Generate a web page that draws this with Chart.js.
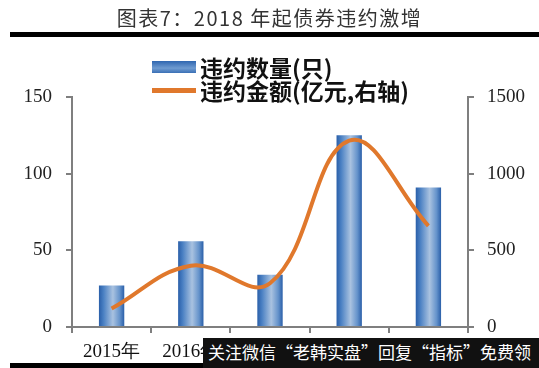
<!DOCTYPE html>
<html>
<head>
<meta charset="utf-8">
<script src="https://cdn.jsdelivr.net/npm/chart.js@4"></script>
<style>
  html, body { margin:0; padding:0; background:#fff; }
  #wrap { position:relative; width:539px; height:368px; overflow:hidden; background:#fff; }
  #c { position:absolute; left:0; top:0; }
  .title { position:absolute; left:0; width:539px; top:5px; text-align:center; font-family:"Noto Sans CJK SC", sans-serif; font-size:20px; letter-spacing:1.5px; color:#333; line-height:26px; }
  .bar { position:absolute; background:#000; }
  .leg { position:absolute; left:200px; font-family:"Noto Sans CJK SC", sans-serif; font-weight:bold; font-size:23px; color:#111; line-height:26px; white-space:nowrap; }
  .wm { position:absolute; left:203px; top:338px; width:336px; height:30px; background:#111; color:#fff; font-family:"Noto Sans CJK SC", sans-serif; font-size:17px; line-height:28px; padding-left:5px; box-sizing:border-box; white-space:nowrap; }
</style>
</head>
<body>
<div id="wrap">
  <canvas id="c" width="539" height="368"></canvas>
  <div class="title">图表7：2018 年起债券违约激增</div>
  <div class="bar" style="left:10px;top:32px;width:529px;height:5px;"></div>
  <div style="position:absolute;left:152px;top:61px;width:44px;height:12px;background:linear-gradient(180deg,#2f66b0,#6f9bd0 60%,#3a70b6);"></div>
  <div class="leg" style="top:54px;">违约数量(只)</div>
  <div style="position:absolute;left:152px;top:88px;width:44px;height:5px;background:#e0782c;"></div>
  <div class="leg" style="top:77px;">违约金额(亿元,右轴)</div>
  <div class="bar" style="left:10px;top:363px;width:529px;height:5px;"></div>
  <div class="wm">关注微信“老韩实盘”回复“指标”免费领</div>
</div>
<script>
const categories = ["2015年", "2016年", "2017年", "2018年", "2019年"];
const defaultCount = [27, 56, 34, 125, 91];
const defaultAmount = [120, 400, 285, 1215, 660];
const leftTicks = [0, 50, 100, 150];
const rightTicks = [0, 500, 1000, 1500];

const BAR_PCT = 0.32;
function barGradient(ctx) {
  const chart = ctx.chart;
  const xs = chart.scales && chart.scales.x;
  if (!xs || !chart.chartArea || ctx.dataIndex === undefined) return '#4a7fc1';
  const cx = xs.getPixelForValue(ctx.dataIndex);
  const w = (xs.width / categories.length) * BAR_PCT;
  const g = chart.ctx.createLinearGradient(cx - w / 2, 0, cx + w / 2, 0);
  g.addColorStop(0, '#2a5fa9');
  g.addColorStop(0.18, '#4a80c3');
  g.addColorStop(0.55, '#a9c2e0');
  g.addColorStop(0.82, '#6593cb');
  g.addColorStop(1, '#2a5fa9');
  return g;
}

const axisColor = '#7f7f7f';
const tickFont = { family: '"Liberation Serif", "Times New Roman", serif', size: 19 };

new Chart(document.getElementById('c'), {
  data: {
    labels: categories,
    datasets: [
      {
        type: 'line',
        label: '违约金额(亿元,右轴)',
        data: defaultAmount,
        yAxisID: 'y1',
        borderColor: '#e0782c',
        borderWidth: 4,
        tension: 0.4,
        pointRadius: 0,
        fill: false,
        order: 0
      },
      {
        type: 'bar',
        label: '违约数量(只)',
        data: defaultCount,
        yAxisID: 'y',
        backgroundColor: barGradient,
        categoryPercentage: 1,
        barPercentage: BAR_PCT,
        order: 1
      }
    ]
  },
  options: {
    responsive: false,
    animation: false,
    devicePixelRatio: 1,
    layout: { padding: { top: 97, left: 0, right: 0, bottom: 0 } },
    plugins: { legend: { display: false }, tooltip: { enabled: false }, title: { display: false } },
    scales: {
      x: {
        type: 'category',
        offset: true,
        grid: { display: true, drawOnChartArea: false, offset: true, tickLength: 6, color: axisColor, lineWidth: 2 },
        border: { display: true, color: axisColor, width: 2 },
        ticks: { color: '#111', font: tickFont, padding: 8, maxRotation: 0, autoSkip: false },
        afterFit: s => { s.height = 41; }
      },
      y: {
        position: 'left',
        min: 0, max: 150,
        afterBuildTicks: s => { s.ticks = leftTicks.map(v => ({ value: v })); },
        grid: { display: true, drawOnChartArea: false, tickLength: 6, color: axisColor, lineWidth: 2 },
        border: { display: true, color: axisColor, width: 2 },
        ticks: { color: '#222', font: tickFont, padding: 14, callback: v => String(v) },
        afterFit: s => { s.width = 72; }
      },
      y1: {
        position: 'right',
        min: 0, max: 1500,
        afterBuildTicks: s => { s.ticks = rightTicks.map(v => ({ value: v })); },
        grid: { display: true, drawOnChartArea: false, tickLength: 6, color: axisColor, lineWidth: 2 },
        border: { display: true, color: axisColor, width: 2 },
        ticks: { color: '#222', font: tickFont, padding: 13, callback: v => String(v) },
        afterFit: s => { s.width = 71; }
      }
    }
  }
});
</script>
</body>
</html>
